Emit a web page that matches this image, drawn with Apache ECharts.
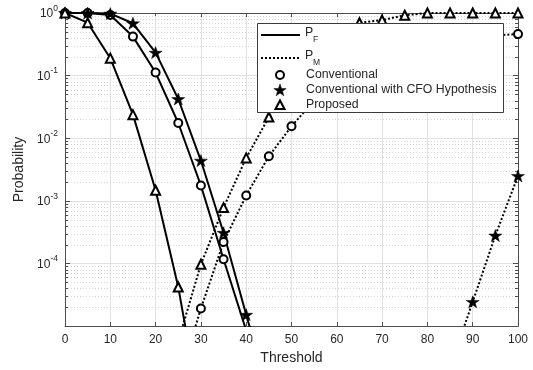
<!DOCTYPE html>
<html><head><meta charset="utf-8">
<script src="https://cdn.jsdelivr.net/npm/echarts@6/dist/echarts.min.js"></script>
<style>html,body{margin:0;padding:0;background:#fff}#c{width:533px;height:370px}</style>
</head><body><div id="c"></div>
<script>
// ---- data ----
const thresholds = [0,5,10,15,20,25,30,35,40,45,50,55,60,65,70,75,80,85,90,95,100];
const pfConventional = [1,1,0.93,0.42,0.112,0.0175,0.00176,0.000117,0.0000085,null,null,null,null,null,null,null,null,null,null,null,null];
const pfCFO = [1,1,0.98,0.685,0.233,0.0423,0.0044,0.00031,0.0000152,0.0000008,null,null,null,null,null,null,null,null,null,null,null];
const pfProposed = [1,0.70,0.19,0.0238,0.00148,0.000042,0.0000004,null,null,null,null,null,null,null,null,null,null,null,null,null,null];
const pmConventional = [null,null,null,null,null,0.0000012,0.0000191,0.00022,0.00122,0.00515,0.0155,0.04,0.085,0.15,0.22,0.29,0.35,0.39,0.42,0.44,0.46];
const pmProposed = [null,null,null,null,null,0.0000057,0.000097,0.00078,0.00485,0.0218,0.075,0.2,0.42,0.7,0.77,0.92,1,1,1,1,1];
const pmCFO = [null,null,null,null,null,null,null,null,null,null,null,null,null,null,null,null,null,0.0000022,0.0000244,0.00028,0.0025];
const xTicks = [0,10,20,30,40,50,60,70,80,90,100];
const yDecades = [-5,-4,-3,-2,-1];
const yMinorMultipliers = [2,3,4,5,6,7,8,9];
const legendLabels = ['P','P','Conventional','Conventional with CFO Hypothesis','Proposed'];
const legendSubs = ['F','M'];

// ---- helpers ----
const FONT = '"Liberation Sans", Arial, Helvetica, sans-serif';
const STAR = 'path://M50,0 L61.8,34.5 L97.6,34.5 L68.5,55.9 L79.4,90.5 L50,69.1 L20.6,90.5 L31.5,55.9 L2.4,34.5 L38.2,34.5 Z';
const pairs = arr => thresholds.map((x,i)=>[x, arr[i]]);
const minorValues = [];
yDecades.forEach(d => yMinorMultipliers.forEach(m => minorValues.push(m*Math.pow(10,d))));

function lineSeries(name, arr, dotted, symbol, size, filled){
  return {
    name, type:'line', data: pairs(arr), connectNulls:false, showAllSymbol:true,
    symbol, symbolSize:size, z:3,
    lineStyle:{color:'#000', width:2, type: dotted ? [2,2] : 'solid'},
    itemStyle: filled ? {color:'#000', borderColor:'#000', borderWidth:0.5}
                      : {color:'#fff', borderColor:'#000', borderWidth:2},
    emphasis:{disabled:true}, animation:false
  };
}

function starPoints(cx, cy, R, r){
  const pts=[];
  for(let k=0;k<10;k++){
    const a = -Math.PI/2 + k*Math.PI/5;
    const rad = k%2===0 ? R : r;
    pts.push([cx+rad*Math.cos(a), cy+rad*Math.sin(a)]);
  }
  return pts;
}

const chart = echarts.init(document.getElementById('c'), null, {renderer:'canvas'});
const axisColor = '#4d4d4d';
const textColor = '#262626';

const option = {
  animation:false,
  backgroundColor:'#fff',
  grid:{left:65, right:15, top:13, bottom:43, containLabel:false},
  xAxis:[{
    type:'value', min:0, max:100, interval:10,
    axisLine:{show:true, onZero:false, lineStyle:{color:axisColor, width:1}},
    axisTick:{show:true, inside:true, length:4, lineStyle:{color:axisColor}},
    axisLabel:{color:textColor, fontSize:12, fontFamily:FONT, margin:8},
    splitLine:{show:true, lineStyle:{color:'#e1e1e1', width:1}},
    name:'Threshold', nameLocation:'middle', nameGap:24,
    nameTextStyle:{color:textColor, fontSize:14, fontFamily:FONT}
  },{
    type:'value', min:0, max:100, interval:10, position:'top',
    axisLine:{show:true, onZero:false, lineStyle:{color:axisColor, width:1}},
    axisTick:{show:true, inside:true, length:4, lineStyle:{color:axisColor}},
    axisLabel:{show:false}, splitLine:{show:false}
  }],
  yAxis:[{
    type:'log', logBase:10, min:1e-5, max:1,
    axisLine:{show:true, onZero:false, lineStyle:{color:axisColor, width:1}},
    axisTick:{show:true, inside:true, length:5, lineStyle:{color:axisColor}},
    axisLabel:{
      showMinLabel:false, margin:7, color:textColor, fontFamily:FONT,
      formatter: v => '{b|10}{s|' + Math.round(Math.log10(v)) + '}',
      rich:{
        b:{fontSize:12, fontFamily:FONT, color:textColor, lineHeight:14, verticalAlign:'bottom'},
        s:{fontSize:8.5, fontFamily:FONT, color:textColor, lineHeight:9, verticalAlign:'bottom', padding:[0,0,7,0]}
      }
    },
    splitLine:{show:true, lineStyle:{color:'#e1e1e1', width:1}},
    name:'Probability', nameLocation:'middle', nameGap:38, nameRotate:90,
    nameTextStyle:{color:textColor, fontSize:14, fontFamily:FONT}
  },{
    type:'log', logBase:10, min:1e-5, max:1, position:'right',
    axisLine:{show:true, onZero:false, lineStyle:{color:axisColor, width:1}},
    axisTick:{show:true, inside:true, length:5, lineStyle:{color:axisColor}},
    axisLabel:{show:false}, splitLine:{show:false}
  }],
  series:[
    {
      type:'custom', xAxisIndex:0, yAxisIndex:0, z:1, silent:true, animation:false,
      data: minorValues.map(v=>[0,v]), encode:{x:0,y:1},
      renderItem(params, api){
        const cs = params.coordSys;
        const y = Math.round(api.coord([0, api.value(1)])[1]) + 0.5;
        return {type:'group', children:[
          {type:'line', shape:{x1:cs.x, y1:y, x2:cs.x+cs.width, y2:y}, style:{stroke:'#d6d6d6', lineWidth:1, lineDash:[1,2]}},
          {type:'line', shape:{x1:cs.x, y1:y, x2:cs.x+3, y2:y}, style:{stroke:axisColor, lineWidth:1}},
          {type:'line', shape:{x1:cs.x+cs.width-3, y1:y, x2:cs.x+cs.width, y2:y}, style:{stroke:axisColor, lineWidth:1}}
        ]};
      }
    },
    lineSeries('PF Conventional', pfConventional, false, 'circle', 8, false),
    lineSeries('PF CFO', pfCFO, false, STAR, [13,12], true),
    lineSeries('PF Proposed', pfProposed, false, 'triangle', 9, false),
    lineSeries('PM Conventional', pmConventional, true, 'circle', 8, false),
    lineSeries('PM CFO', pmCFO, true, STAR, [13,12], true),
    lineSeries('PM Proposed', pmProposed, true, 'triangle', 9, false)
  ],
  graphic:[{
    type:'group', z:100, silent:true,
    children:[
      {type:'rect', shape:{x:257.5, y:23.5, width:246, height:89}, style:{fill:'#fff', stroke:'#3a3a3a', lineWidth:1}, z:100},
      {type:'line', shape:{x1:261, y1:35, x2:300, y2:35}, style:{stroke:'#000', lineWidth:2}, z:101},
      {type:'text', x:305, y:32.5, style:{text:legendLabels[0], fontSize:12.3, fontFamily:FONT, fill:textColor, verticalAlign:'middle'}, z:101},
      {type:'text', x:313, y:40, style:{text:legendSubs[0], fontSize:8.5, fontFamily:FONT, fill:textColor, verticalAlign:'middle'}, z:101},
      {type:'line', shape:{x1:261, y1:58, x2:300, y2:58}, style:{stroke:'#000', lineWidth:2, lineDash:[2,2]}, z:101},
      {type:'text', x:305, y:55.5, style:{text:legendLabels[1], fontSize:12.3, fontFamily:FONT, fill:textColor, verticalAlign:'middle'}, z:101},
      {type:'text', x:313, y:63, style:{text:legendSubs[1], fontSize:8.5, fontFamily:FONT, fill:textColor, verticalAlign:'middle'}, z:101},
      {type:'circle', shape:{cx:280, cy:75, r:4}, style:{fill:'#fff', stroke:'#000', lineWidth:2}, z:101},
      {type:'text', x:306, y:75, style:{text:legendLabels[2], fontSize:12.3, fontFamily:FONT, fill:textColor, verticalAlign:'middle'}, z:101},
      {type:'polygon', shape:{points:starPoints(280,90.5,6.5,2.6)}, style:{fill:'#000', stroke:'#000', lineWidth:0.5}, z:101},
      {type:'text', x:306, y:90, style:{text:legendLabels[3], fontSize:12.3, fontFamily:FONT, fill:textColor, verticalAlign:'middle'}, z:101},
      {type:'polygon', shape:{points:[[280,100.5],[284.5,109],[275.5,109]]}, style:{fill:'#fff', stroke:'#000', lineWidth:2}, z:101},
      {type:'text', x:306, y:105, style:{text:legendLabels[4], fontSize:12.3, fontFamily:FONT, fill:textColor, verticalAlign:'middle'}, z:101}
    ]
  }]
};
chart.setOption(option);
</script>
</body></html>
